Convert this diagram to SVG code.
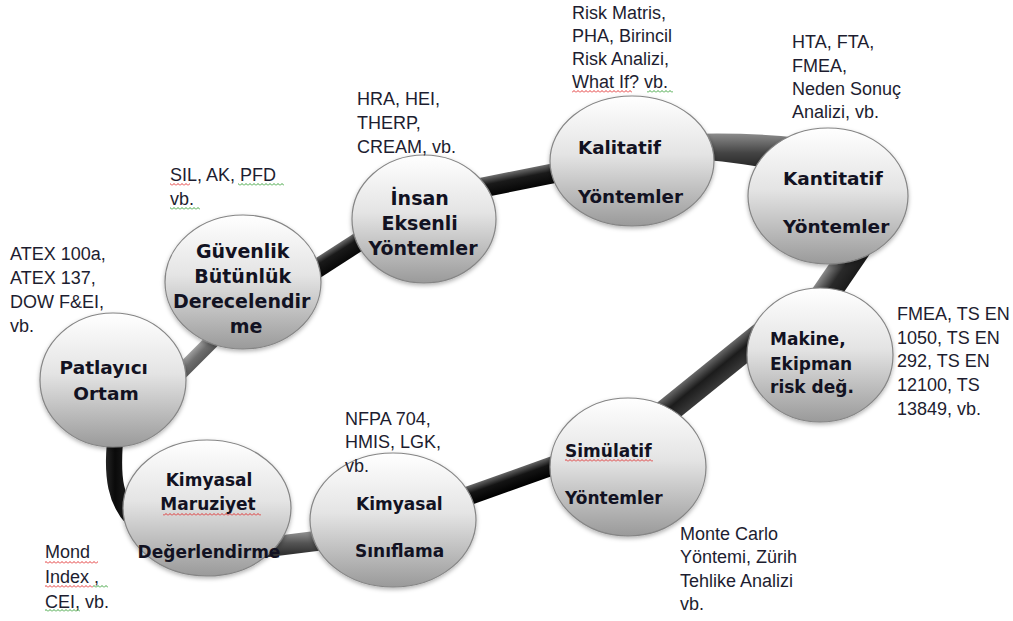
<svg xmlns="http://www.w3.org/2000/svg" width="1013" height="621" viewBox="0 0 1013 621">
  <defs>
    <style>
      .node-shape { fill: url(#ballFill); stroke: #858585; stroke-width: 1.2; filter: url(#ballShadow); }
      .node-text { font-family: "DejaVu Sans", Verdana, sans-serif; font-weight: bold; fill: #121222; }
      .note { font-family: "Liberation Sans", Arial, sans-serif; font-size: 18px; fill: #1d1d30; }
      .band { fill: none; stroke-linecap: butt; }
    </style>
    <linearGradient id="ballFill" x1="0" y1="0" x2="0" y2="1">
      <stop offset="0" stop-color="#ffffff"/>
      <stop offset="0.45" stop-color="#e4e4e4"/>
      <stop offset="1" stop-color="#9a9a9a"/>
    </linearGradient>
    <filter id="ballShadow" x="-10%" y="-10%" width="120%" height="125%">
      <feDropShadow dx="0" dy="2" stdDeviation="2" flood-color="#000" flood-opacity="0.3"/>
    </filter>
    <!-- shading across each band segment -->
    <linearGradient id="gPG" gradientUnits="userSpaceOnUse" x1="194.7" y1="347.7" x2="205.3" y2="358.3">
      <stop offset="0" stop-color="#a0a0a0"/><stop offset="0.5" stop-color="#6e6e6e"/><stop offset="1" stop-color="#5a5a5a"/>
    </linearGradient>
    <linearGradient id="gGI" gradientUnits="userSpaceOnUse" x1="330" y1="249" x2="340" y2="265">
      <stop offset="0" stop-color="#6a6a6a"/><stop offset="0.35" stop-color="#1a1a1a"/><stop offset="1" stop-color="#080808"/>
    </linearGradient>
    <linearGradient id="gIK" gradientUnits="userSpaceOnUse" x1="528" y1="168" x2="532" y2="188">
      <stop offset="0" stop-color="#707070"/><stop offset="0.4" stop-color="#1a1a1a"/><stop offset="1" stop-color="#050505"/>
    </linearGradient>
    <linearGradient id="gKK" gradientUnits="userSpaceOnUse" x1="0" y1="134" x2="0" y2="172">
      <stop offset="0" stop-color="#8a8a8a"/><stop offset="0.5" stop-color="#444"/><stop offset="1" stop-color="#1e1e1e"/>
    </linearGradient>
    <linearGradient id="gKM" gradientUnits="userSpaceOnUse" x1="828.4" y1="265.1" x2="851.6" y2="280.9">
      <stop offset="0" stop-color="#8a8a8a"/><stop offset="0.5" stop-color="#2a2a2a"/><stop offset="1" stop-color="#1a1a1a"/>
    </linearGradient>
    <linearGradient id="gMS" gradientUnits="userSpaceOnUse" x1="701.8" y1="366.4" x2="718.2" y2="386.6">
      <stop offset="0" stop-color="#6a6a6a"/><stop offset="0.45" stop-color="#1c1c1c"/><stop offset="1" stop-color="#3a3a3a"/>
    </linearGradient>
    <linearGradient id="gSK" gradientUnits="userSpaceOnUse" x1="506.8" y1="472.1" x2="513.2" y2="489.9">
      <stop offset="0" stop-color="#666"/><stop offset="0.4" stop-color="#141414"/><stop offset="1" stop-color="#000"/>
    </linearGradient>
    <linearGradient id="gKS" gradientUnits="userSpaceOnUse" x1="300" y1="533" x2="300" y2="553">
      <stop offset="0" stop-color="#8c8c8c"/><stop offset="0.5" stop-color="#555"/><stop offset="1" stop-color="#333"/>
    </linearGradient>
    <linearGradient id="gLP" gradientUnits="userSpaceOnUse" x1="104" y1="0" x2="126" y2="0">
      <stop offset="0" stop-color="#2a2a2a"/><stop offset="0.5" stop-color="#0a0a0a"/><stop offset="1" stop-color="#1a1a1a"/>
    </linearGradient>
    <!-- spell-check squiggles -->
    <pattern id="sqRed" patternUnits="userSpaceOnUse" width="4" height="3">
      <path d="M0 2.5 L2 0.5 L4 2.5" fill="none" stroke="#e02424" stroke-width="0.9"/>
    </pattern>
    <pattern id="sqGreen" patternUnits="userSpaceOnUse" width="4" height="3">
      <path d="M0 2.5 L2 0.5 L4 2.5" fill="none" stroke="#2a9a2a" stroke-width="0.9"/>
    </pattern>
  </defs>

  <rect width="1013" height="621" fill="#ffffff"/>

  <!-- ring band joining the nodes -->
  <g id="connectors">
    <path class="band" d="M170 383 L230 323" stroke="url(#gPG)" stroke-width="15"/>
    <path class="band" d="M290 286 L380 228" stroke="url(#gGI)" stroke-width="19"/>
    <path class="band" d="M470 190 L590 166" stroke="url(#gIK)" stroke-width="20"/>
    <path d="M680 134 C720 133 760 133 800 138 L800 174 C760 166 720 160 680 158 Z" fill="url(#gKK)"/>
    <path class="band" d="M868 232 L812 314" stroke="url(#gKM)" stroke-width="28"/>
    <path class="band" d="M770 328 L650 425" stroke="url(#gMS)" stroke-width="26"/>
    <path class="band" d="M440 506 L580 456" stroke="url(#gSK)" stroke-width="19"/>
    <path class="band" d="M260 548 L340 538" stroke="url(#gKS)" stroke-width="20"/>
    <path class="band" d="M116 430 C112 470 110 508 148 532" stroke="url(#gLP)" stroke-width="16"/>
  </g>

  <g id="node-patlayici">
    <ellipse class="node-shape" cx="113" cy="380" rx="73" ry="67"/>
    <text class="node-text" font-size="18.5" text-anchor="middle">
      <tspan x="107" y="374">Patlayıcı</tspan>
      <tspan x="106" y="400">Ortam</tspan>
    </text>
  </g>

  <g id="node-guvenlik">
    <ellipse class="node-shape" cx="243" cy="282" rx="78" ry="67"/>
    <text class="node-text" font-size="19" text-anchor="middle">
      <tspan x="246" y="258">Güvenlik</tspan>
      <tspan x="246" y="283">Bütünlük</tspan>
      <tspan x="245" y="308">Derecelendir</tspan>
      <tspan x="246" y="333">me</tspan>
    </text>
  </g>

  <g id="node-insan">
    <ellipse class="node-shape" cx="424" cy="219" rx="72" ry="64"/>
    <text class="node-text" font-size="19" text-anchor="middle">
      <tspan x="423" y="205">İnsan</tspan>
      <tspan x="423" y="230">Eksenli</tspan>
      <tspan x="423" y="255">Yöntemler</tspan>
    </text>
  </g>

  <g id="node-kalitatif">
    <ellipse class="node-shape" cx="632" cy="161" rx="82" ry="65"/>
    <text class="node-text" font-size="18.3">
      <tspan x="578" y="154">Kalitatif</tspan>
      <tspan x="578" y="203">Yöntemler</tspan>
    </text>
  </g>

  <g id="node-kantitatif">
    <ellipse class="node-shape" cx="828" cy="196" rx="80" ry="68"/>
    <text class="node-text" font-size="18.5">
      <tspan x="783" y="185">Kantitatif</tspan>
      <tspan x="783" y="233">Yöntemler</tspan>
    </text>
  </g>

  <g id="node-makine">
    <ellipse class="node-shape" cx="820" cy="355" rx="73" ry="67"/>
    <text class="node-text" font-size="17">
      <tspan x="770" y="345">Makine,</tspan>
      <tspan x="770" y="370">Ekipman</tspan>
      <tspan x="770" y="393">risk değ.</tspan>
    </text>
  </g>

  <g id="node-simulatif">
    <ellipse class="node-shape" cx="628" cy="467" rx="78" ry="69"/>
    <text class="node-text" font-size="17">
      <tspan x="565" y="457">Simülatif</tspan>
      <tspan x="565" y="504">Yöntemler</tspan>
    </text>
  </g>

  <g id="node-siniflama">
    <ellipse class="node-shape" cx="393" cy="520" rx="83" ry="67"/>
    <text class="node-text" font-size="17">
      <tspan x="356" y="510">Kimyasal</tspan>
      <tspan x="355" y="557">Sınıflama</tspan>
    </text>
  </g>

  <g id="node-maruziyet">
    <ellipse class="node-shape" cx="207" cy="508" rx="84" ry="68"/>
    <text class="node-text" font-size="17" text-anchor="middle">
      <tspan x="212" y="486">Kimyasal</tspan>
      <tspan x="211" y="510">Maruziyet</tspan>
      <tspan x="209" y="558">Değerlendirme</tspan>
    </text>
  </g>

  <!-- method notes -->
  <g id="notes">
    <text class="note"><tspan x="10" y="260">ATEX 100a,</tspan><tspan x="10" y="284">ATEX 137,</tspan><tspan x="10" y="308">DOW F&amp;EI,</tspan><tspan x="10" y="332">vb.</tspan></text>
    <text class="note"><tspan x="170" y="181">SIL, AK, PFD</tspan><tspan x="170" y="205">vb.</tspan></text>
    <text class="note"><tspan x="357" y="105">HRA, HEI,</tspan><tspan x="357" y="129">THERP,</tspan><tspan x="357" y="153">CREAM, vb.</tspan></text>
    <text class="note"><tspan x="572" y="19">Risk Matris,</tspan><tspan x="572" y="42">PHA, Birincil</tspan><tspan x="572" y="65">Risk Analizi,</tspan><tspan x="572" y="88">What If? vb.</tspan></text>
    <text class="note"><tspan x="792" y="48">HTA, FTA,</tspan><tspan x="792" y="72">FMEA,</tspan><tspan x="792" y="95">Neden Sonuç</tspan><tspan x="792" y="118">Analizi, vb.</tspan></text>
    <text class="note"><tspan x="897" y="320">FMEA, TS EN</tspan><tspan x="897" y="344">1050, TS EN</tspan><tspan x="897" y="367">292, TS EN</tspan><tspan x="897" y="391">12100, TS</tspan><tspan x="897" y="415">13849, vb.</tspan></text>
    <text class="note"><tspan x="345" y="425">NFPA 704,</tspan><tspan x="345" y="448">HMIS, LGK,</tspan><tspan x="345" y="472">vb.</tspan></text>
    <text class="note"><tspan x="680" y="540">Monte Carlo</tspan><tspan x="680" y="563">Yöntemi, Zürih</tspan><tspan x="680" y="587">Tehlike Analizi</tspan><tspan x="680" y="610">vb.</tspan></text>
    <text class="note"><tspan x="45" y="558">Mond</tspan><tspan x="45" y="583">Index ,</tspan><tspan x="45" y="608">CEI, vb.</tspan></text>
  </g>

  <!-- proofing underlines -->
  <g id="squiggles">
    <rect x="170" y="183" width="20" height="3" fill="url(#sqRed)"/>
    <rect x="238" y="183" width="46" height="3" fill="url(#sqGreen)"/>
    <rect x="170" y="207" width="30" height="3" fill="url(#sqGreen)"/>
    <rect x="572" y="90" width="60" height="3" fill="url(#sqRed)"/>
    <rect x="647" y="90" width="26" height="3" fill="url(#sqGreen)"/>
    <rect x="163" y="513" width="98" height="3" fill="url(#sqRed)"/>
    <rect x="565" y="459" width="88" height="3" fill="url(#sqRed)"/>
    <rect x="45" y="561" width="53" height="3" fill="url(#sqRed)"/>
    <rect x="45" y="585" width="48" height="3" fill="url(#sqRed)"/>
    <rect x="93" y="585" width="15" height="3" fill="url(#sqGreen)"/>
    <rect x="45" y="609" width="35" height="3" fill="url(#sqGreen)"/>
  </g>
</svg>
